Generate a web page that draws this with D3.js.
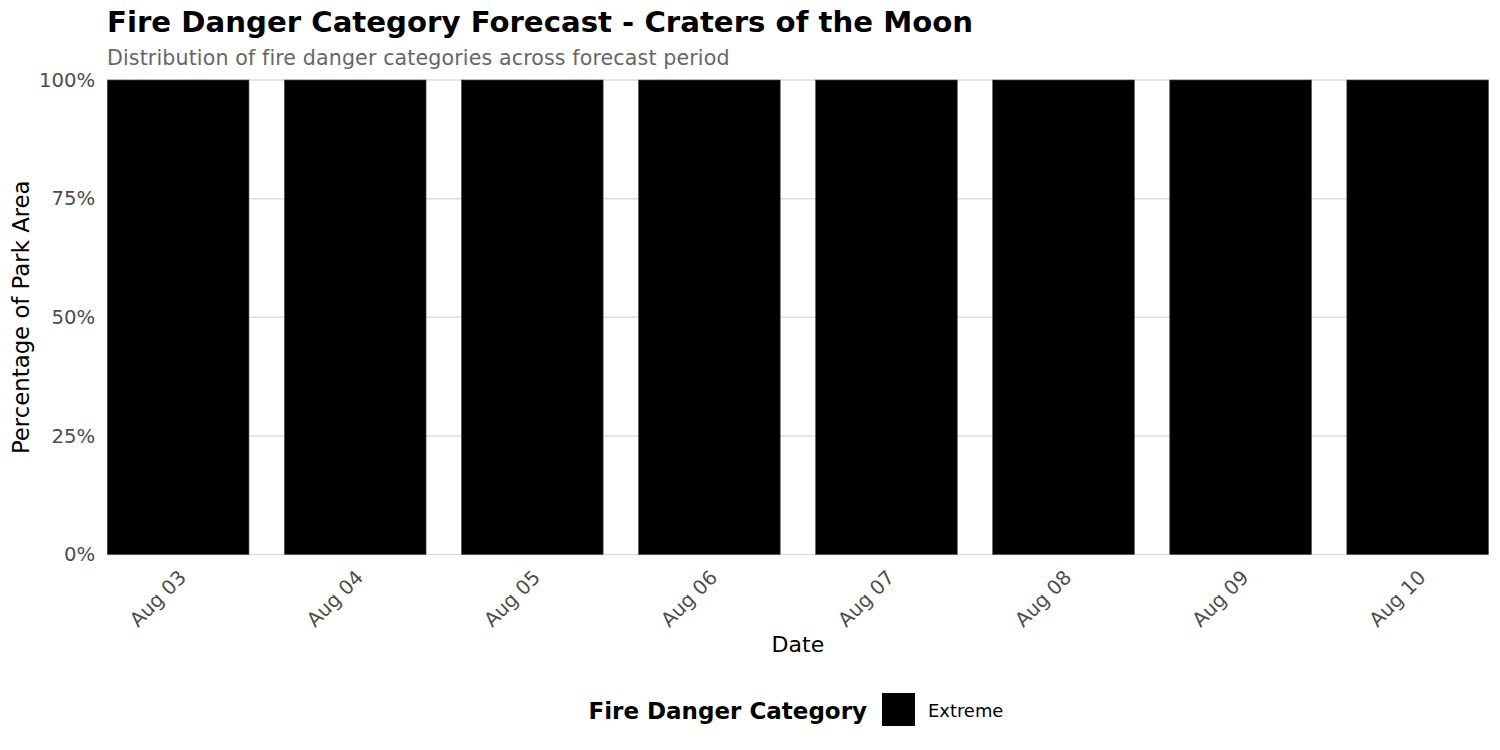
<!DOCTYPE html>
<html>
<head>
<meta charset="utf-8">
<script src="https://cdn.jsdelivr.net/npm/d3@7"></script>
<style>
  body { margin: 0; background: #fff; }
  svg { font-family: "DejaVu Sans", sans-serif; }
</style>
</head>
<body>
<div id="chart"></div>
<script>
// forecast dates and share of park area in each category (percent)
const dates = ["Aug 03", "Aug 04", "Aug 05", "Aug 06", "Aug 07", "Aug 08", "Aug 09", "Aug 10"];
const categories = ["Extreme"];
const extremePct = [100, 100, 100, 100, 100, 100, 100, 100];
const yTicks = [0, 25, 50, 75, 100];

const categoryColor = { Extreme: "#000000" };

const width = 1500, height = 750;
const margin = { top: 80, right: 11.5, bottom: 195.5, left: 107.3 };

const svg = d3.select("#chart").append("svg")
    .attr("width", width)
    .attr("height", height);

const x = d3.scaleBand()
    .domain(dates)
    .range([margin.left, width - margin.right])
    .paddingInner(0.2)
    .paddingOuter(0);

const y = d3.scaleLinear()
    .domain([0, 100])
    .range([height - margin.bottom, margin.top]);

// horizontal grid lines
svg.append("g")
    .selectAll("line")
    .data(yTicks)
    .join("line")
        .attr("x1", margin.left)
        .attr("x2", width - margin.right)
        .attr("y1", d => y(d))
        .attr("y2", d => y(d))
        .attr("stroke", "#dedede")
        .attr("stroke-width", 1.5);

// stacked bars (only one category here)
const rows = dates.map((d, i) => ({ date: d, Extreme: extremePct[i] }));
const stacked = d3.stack().keys(categories)(rows);

svg.append("g")
    .selectAll("g")
    .data(stacked)
    .join("g")
        .attr("fill", s => categoryColor[s.key])
    .selectAll("rect")
    .data(s => s)
    .join("rect")
        .attr("x", d => x(d.data.date))
        .attr("width", x.bandwidth())
        .attr("y", d => y(d[1]))
        .attr("height", d => y(d[0]) - y(d[1]))
        .attr("stroke", "#4a4a4a")
        .attr("stroke-width", 0.6);

// y axis labels
const yAxis = svg.append("g")
    .attr("transform", `translate(${margin.left},0)`)
    .call(d3.axisLeft(y).tickValues(yTicks).tickFormat(d => d + "%").tickSize(0).tickPadding(12));
yAxis.select(".domain").remove();
yAxis.selectAll("text")
    .attr("fill", "#4d4d4d")
    .style("font-size", "19.7px")
    .style("font-family", "DejaVu Sans, sans-serif");

// x axis labels, rotated 45 degrees
const xAxis = svg.append("g")
    .attr("transform", `translate(0,${height - margin.bottom})`)
    .call(d3.axisBottom(x).tickSize(0).tickPadding(0));
xAxis.select(".domain").remove();
xAxis.selectAll("text")
    .attr("fill", "#4d4d4d")
    .style("font-size", "19.7px")
    .style("font-family", "DejaVu Sans, sans-serif")
    .attr("text-anchor", "end")
    .attr("dy", null)
    .attr("y", 0)
    .attr("transform", "translate(-1,14) rotate(-45)")
    .attr("dominant-baseline", "hanging");

// titles
svg.append("text")
    .attr("x", 107)
    .attr("y", 32)
    .attr("font-size", "29.2px")
    .attr("font-weight", "bold")
    .attr("fill", "#000")
    .text("Fire Danger Category Forecast - Craters of the Moon");

svg.append("text")
    .attr("x", 107)
    .attr("y", 65)
    .attr("font-size", "20.6px")
    .attr("letter-spacing", "0.12px")
    .attr("fill", "#666666")
    .text("Distribution of fire danger categories across forecast period");

svg.append("text")
    .attr("x", (margin.left + width - margin.right) / 2)
    .attr("y", 652)
    .attr("text-anchor", "middle")
    .attr("font-size", "22px")
    .attr("fill", "#000")
    .text("Date");

svg.append("text")
    .attr("transform", `translate(29,${(margin.top + height - margin.bottom) / 2}) rotate(-90)`)
    .attr("text-anchor", "middle")
    .attr("font-size", "22.8px")
    .attr("fill", "#000")
    .text("Percentage of Park Area");

// legend
const legend = svg.append("g").attr("transform", "translate(0,710)");
legend.append("text")
    .attr("x", 867)
    .attr("y", 8.5)
    .attr("text-anchor", "end")
    .attr("font-size", "23px")
    .attr("font-weight", "bold")
    .attr("fill", "#000")
    .text("Fire Danger Category");
legend.selectAll("rect.key")
    .data(categories)
    .join("rect")
        .attr("class", "key")
        .attr("x", 882)
        .attr("y", -17)
        .attr("width", 33)
        .attr("height", 33)
        .attr("fill", d => categoryColor[d]);
legend.selectAll("text.key")
    .data(categories)
    .join("text")
        .attr("class", "key")
        .attr("x", 928)
        .attr("y", 6.5)
        .attr("font-size", "17.9px")
        .attr("fill", "#000")
        .text(d => d);
</script>
</body>
</html>
